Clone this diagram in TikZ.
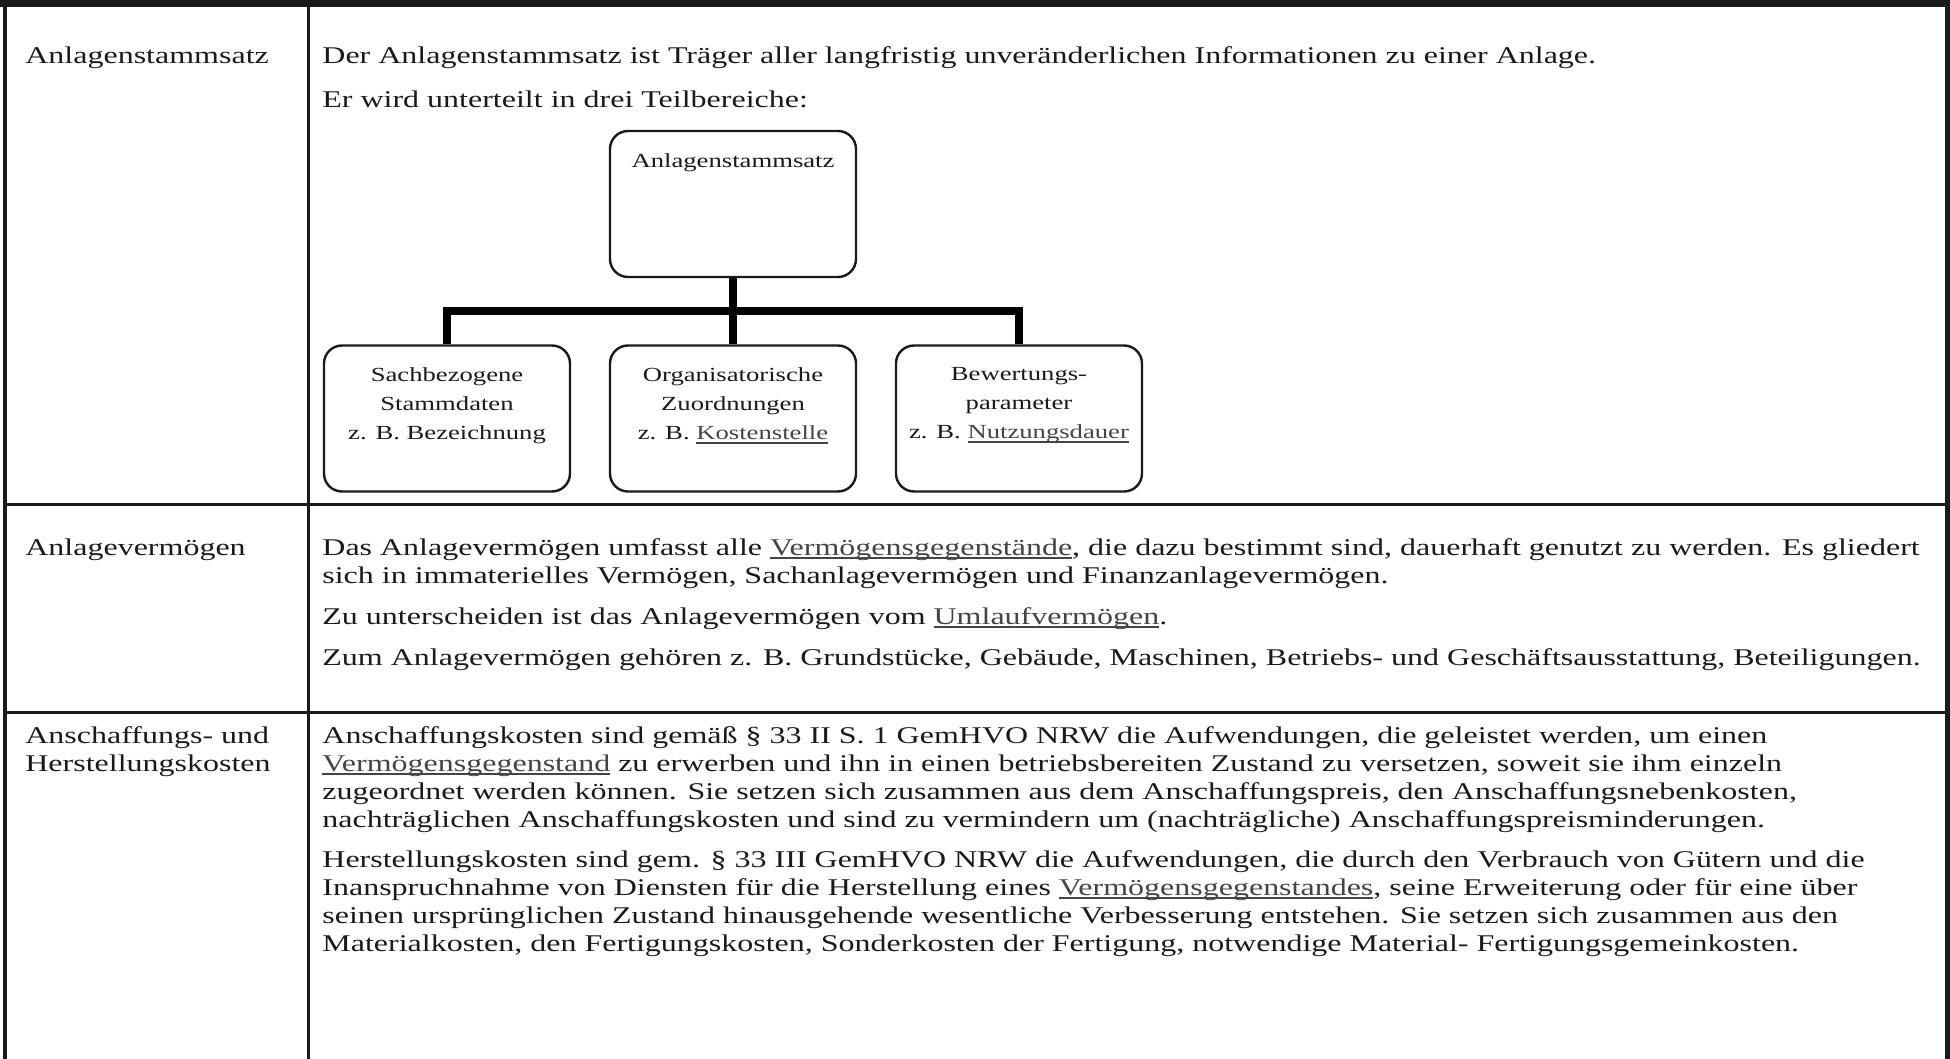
\documentclass[tikz,border=0pt]{standalone}
\usepackage{fontspec}
\setmainfont{Liberation Serif}[FakeStretch=1.333]
\usetikzlibrary{positioning}

\definecolor{ink}{HTML}{1A1A1A}
\definecolor{linkgray}{HTML}{444444}
\newsavebox{\lnkbox}
\newcommand{\lnk}[1]{{\color{linkgray}\sbox{\lnkbox}{#1}\rlap{\rule[-2pt]{\wd\lnkbox}{0.9pt}}\usebox{\lnkbox}}}

\tikzset{
  % multi-line cells sit on the baseline of their last line
  cell/.style = {anchor=base west, align=left, inner sep=0pt, text=ink, font=\fontsize{12}{14}\selectfont},
  orgbox/.style = {draw=ink, line width=1.2pt, rounded corners=9pt, minimum width=123pt, minimum height=73pt, inner sep=0pt},
  orgtext/.style = {anchor=north, yshift=-11.5pt, align=center, inner sep=0pt, text=ink, font=\fontsize{10}{14.5}\selectfont},
  orgline/.style = {draw=black, line width=4pt, line join=miter},
  tabline/.style = {draw=ink, line width=1.5pt}
}

\begin{document}
\begin{tikzpicture}[x=0.5pt, y=-0.5pt]
\useasboundingbox (0,0) rectangle (1950,1059);

% table frame and grid
\draw[tabline, line width=3.5pt] (0,3.5) -- (1950,3.5);
\draw[tabline, line width=2pt] (5,0) -- (5,1059);
\draw[tabline, line width=2.5pt] (1947.5,0) -- (1947.5,1059);
\draw[tabline] (308.5,0) -- (308.5,1059);
\draw[tabline] (5,504) -- (1947.5,504);
\draw[tabline] (5,712) -- (1947.5,712);

% row 1
\node[cell] (lblstamm) at (25,64) {Anlagenstammsatz};
\node[cell] (defstamm) at (322,64) {Der Anlagenstammsatz ist Träger aller langfristig unveränderlichen Informationen zu einer Anlage.};
\node[cell] (teil) at (322,108) {Er wird unterteilt in drei Teilbereiche:};

% org chart
\node[orgbox, label={[orgtext]north:Anlagenstammsatz}] (stamm) at (733,204) {};
\node[orgbox, label={[orgtext]north:Sachbezogene\\Stammdaten\\z. B. Bezeichnung}] (sach) at (447,418.5) {};
\node[orgbox, label={[orgtext]north:Organisatorische\\Zuordnungen\\z. B. \lnk{Kostenstelle}}] (orga) at (733,418.5) {};
\node[orgbox, label={[orgtext]north:Bewertungs-\\parameter\\z. B. \lnk{Nutzungsdauer}}] (bew) at (1019,418.5) {};
\coordinate (fork) at (733,311);
\draw[orgline] (stamm.south) -- (fork);
\draw[orgline] (sach.north) |- (fork) -| (bew.north);
\draw[orgline] (fork) -- (orga.north);

% row 2
\node[cell] (lblav) at (25,555) {Anlagevermögen};
\node[cell] (av1) at (322,583) {Das Anlagevermögen umfasst alle \lnk{Vermögensgegenstände}, die dazu bestimmt sind, dauerhaft genutzt zu werden. Es gliedert\\
sich in immaterielles Vermögen, Sachanlagevermögen und Finanzanlagevermögen.};
\node[cell] (av2) at (322,624) {Zu unterscheiden ist das Anlagevermögen vom \lnk{Umlaufvermögen}.};
\node[cell] (av3) at (322,665) {Zum Anlagevermögen gehören z. B. Grundstücke, Gebäude, Maschinen, Betriebs- und Geschäftsausstattung, Beteiligungen.};

% row 3
\node[cell] (lblahk) at (25,771) {Anschaffungs- und\\Herstellungskosten};
\node[cell] (ak) at (322,827) {Anschaffungskosten sind gemäß § 33 II S. 1 GemHVO NRW die Aufwendungen, die geleistet werden, um einen\\
\lnk{Vermögensgegenstand} zu erwerben und ihn in einen betriebsbereiten Zustand zu versetzen, soweit sie ihm einzeln\\
zugeordnet werden können. Sie setzen sich zusammen aus dem Anschaffungspreis, den Anschaffungsnebenkosten,\\
nachträglichen Anschaffungskosten und sind zu vermindern um (nachträgliche) Anschaffungspreisminderungen.};
\node[cell] (hk) at (322,951) {Herstellungskosten sind gem. § 33 III GemHVO NRW die Aufwendungen, die durch den Verbrauch von Gütern und die\\
Inanspruchnahme von Diensten für die Herstellung eines \lnk{Vermögensgegenstandes}, seine Erweiterung oder für eine über\\
seinen ursprünglichen Zustand hinausgehende wesentliche Verbesserung entstehen. Sie setzen sich zusammen aus den\\
Materialkosten, den Fertigungskosten, Sonderkosten der Fertigung, notwendige Material- Fertigungsgemeinkosten.};
\end{tikzpicture}
\end{document}
